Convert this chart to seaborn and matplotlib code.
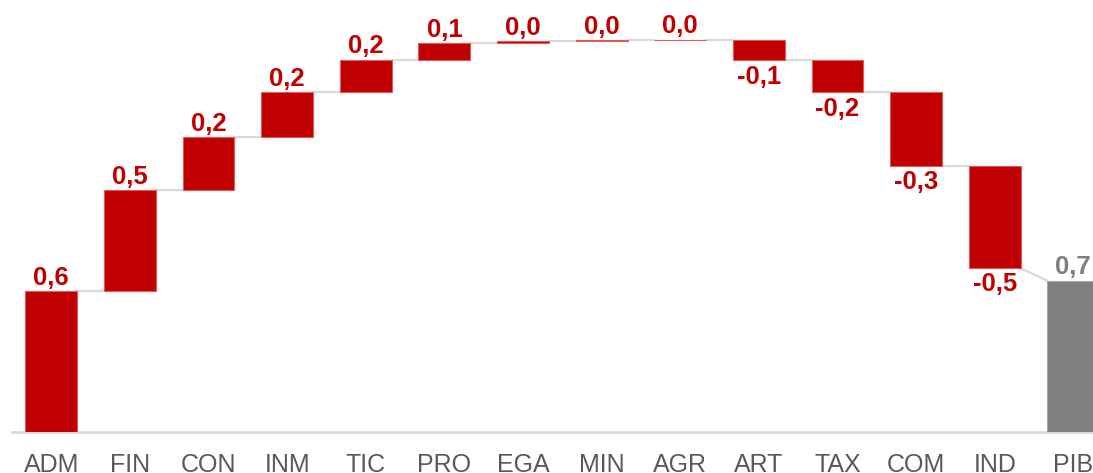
import numpy as np
import pandas as pd
import seaborn as sns
from matplotlib import pyplot as plt

# sector contributions to GDP growth (waterfall) and the total
sectors = ["ADM", "FIN", "CON", "INM", "TIC", "PRO", "EGA", "MIN", "AGR",
           "ART", "TAX", "COM", "IND"]
contrib = [0.648, 0.462, 0.243, 0.206, 0.149, 0.076, 0.010, 0.003, 0.003,
           -0.095, -0.147, -0.339, -0.468]
contrib_labels = ["0,6", "0,5", "0,2", "0,2", "0,2", "0,1", "0,0", "0,0", "0,0",
                  "-0,1", "-0,2", "-0,3", "-0,5"]
total_name = "PIB"
total_value = 0.694
total_label = "0,7"

RED = "#c00000"
GREY = "#7f7f7f"
LINE = "#d9d9d9"


def main():
    sns.set_style("white")
    plt.rcParams["font.family"] = ["Liberation Sans", "DejaVu Sans"]

    cum = np.cumsum(contrib)
    bottoms = list(cum - np.array(contrib)) + [0.0]
    df = pd.DataFrame({
        "sector": sectors + [total_name],
        "height": contrib + [total_value],
        "label": contrib_labels + [total_label],
    })

    fig = plt.figure(figsize=(10.93, 4.73), dpi=100)
    ax = fig.add_axes([12 / 1093, 41 / 473, 1 - 12 / 1093, 1 - 41 / 473])
    sns.barplot(data=df, x="sector", y="height", bottom=np.array(bottoms),
                width=0.66, color=RED, saturation=1, edgecolor="#e05a5a",
                linewidth=0.8, ax=ax, zorder=3)
    ax.patches[-1].set_facecolor(GREY)
    ax.patches[-1].set_edgecolor("#a6a6a6")

    # connectors
    hw = 0.33
    for i in range(len(sectors) - 1):
        ax.plot([i + hw, i + 1 - hw], [cum[i], cum[i]], color=LINE, lw=1.6, zorder=1)
    n = len(sectors) - 1
    ax.plot([n + hw, n + 1 - hw], [cum[n], total_value], color=LINE, lw=1.6, zorder=1)

    # value labels
    for i, row in df.iterrows():
        h = row["height"]
        if i < len(sectors):
            top = cum[i]
            bot = bottoms[i]
            color = RED
        else:
            top = total_value
            bot = 0.0
            color = GREY
        if h >= 0:
            ax.annotate(row["label"], (i, max(top, bot)), xytext=(0, 4.5),
                        textcoords="offset points", ha="center", va="baseline",
                        fontsize=18.5, fontweight="bold", color=color)
        else:
            ax.annotate(row["label"], (i, min(top, bot)), xytext=(0, -3),
                        textcoords="offset points", ha="center", va="top",
                        fontsize=18.5, fontweight="bold", color=color)

    ax.set_xlim(-0.5, 13.25)
    ax.set_ylim(0, 1.982)
    sns.despine(ax=ax, left=True, top=True, right=True)
    ax.spines["bottom"].set_color(LINE)
    ax.spines["bottom"].set_linewidth(2)
    ax.set_yticks([])
    ax.set_xlabel("")
    ax.set_ylabel("")
    ax.tick_params(axis="x", length=0, pad=15, labelsize=18, labelcolor="#595959")

    plt.savefig("out.png", dpi=100)


if __name__ == "__main__":
    main()
